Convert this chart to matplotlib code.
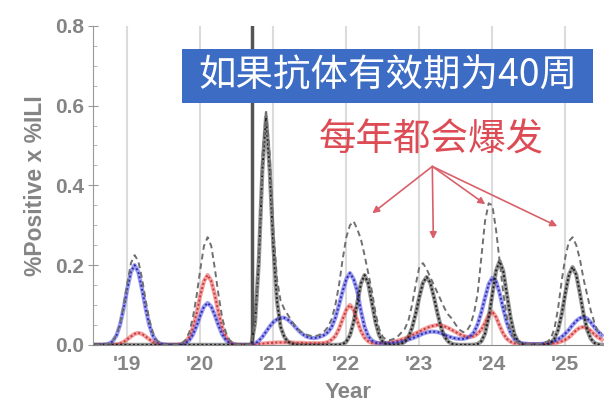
import numpy as np
import matplotlib
matplotlib.use("Agg")
import matplotlib.pyplot as plt
from matplotlib.patches import Rectangle

# time axis: one point every 0.05 year
years = np.round(np.arange(2018.55, 2025.5001, 0.05), 2)

# --- series (rows = calendar years) ---
blue = [
    0, 0, 0, 0.001, 0.003, 0.009, 0.023, 0.05, 0.092,
    0.141, 0.183, 0.20, 0.183, 0.141, 0.092, 0.05, 0.023, 0.009, 0.003,
    0.001, 0, 0, 0, 0, 0.0015, 0.005, 0.012, 0.026, 0.048,
    0.074, 0.096, 0.105, 0.096, 0.074, 0.048, 0.026, 0.012, 0.005, 0.0015,
    0, 0, 0, 0, 0, 0.003, 0.01, 0.02, 0.033, 0.046,
    0.057, 0.064, 0.068, 0.068, 0.063, 0.055, 0.045, 0.035, 0.027, 0.021,
    0.018, 0.017, 0.018, 0.021, 0.025, 0.032, 0.045, 0.068, 0.1, 0.135,
    0.165, 0.18, 0.165, 0.135, 0.085, 0.045, 0.022, 0.011, 0.006, 0.004,
    0.004, 0.004, 0.004, 0.005, 0.006, 0.008, 0.01, 0.013, 0.016, 0.02,
    0.024, 0.028, 0.031, 0.033, 0.033, 0.032, 0.029, 0.025, 0.021, 0.018,
    0.016, 0.015, 0.015, 0.017, 0.022, 0.032, 0.052, 0.082, 0.118, 0.152,
    0.168, 0.16, 0.13, 0.09, 0.055, 0.03, 0.015, 0.008, 0.004, 0.003,
    0.002, 0.002, 0.002, 0.002, 0.003, 0.004, 0.006, 0.009, 0.014, 0.02,
    0.028, 0.038, 0.05, 0.06, 0.067, 0.07, 0.066, 0.056, 0.044, 0.033, 0.024,
]
red = [
    0, 0, 0, 0, 0, 0.0005, 0.001, 0.003, 0.0075,
    0.014, 0.021, 0.0275, 0.03, 0.0275, 0.021, 0.014, 0.0075, 0.0034, 0.0013,
    0.0004, 0, 0, 0, 0.0007, 0.0025, 0.008, 0.02, 0.044, 0.08,
    0.124, 0.16, 0.175, 0.16, 0.124, 0.08, 0.044, 0.02, 0.008, 0.0025,
    0.0007, 0, 0, 0, 0, 0.001, 0.002, 0.003, 0.004, 0.005,
    0.005, 0.006, 0.006, 0.006, 0.006, 0.006, 0.005, 0.005, 0.005, 0.004,
    0.004, 0.004, 0.004, 0.004, 0.005, 0.007, 0.013, 0.022, 0.04, 0.065,
    0.088, 0.10, 0.088, 0.06, 0.035, 0.018, 0.009, 0.005, 0.004, 0.004,
    0.004, 0.005, 0.006, 0.008, 0.01, 0.013, 0.016, 0.02, 0.024, 0.029,
    0.033, 0.038, 0.042, 0.046, 0.048, 0.05, 0.049, 0.046, 0.042, 0.037,
    0.032, 0.027, 0.023, 0.02, 0.02, 0.022, 0.028, 0.038, 0.055, 0.075,
    0.083, 0.07, 0.048, 0.028, 0.015, 0.008, 0.004, 0.003, 0.002, 0.002,
    0.002, 0.002, 0.002, 0.002, 0.002, 0.002, 0.003, 0.004, 0.006, 0.009,
    0.013, 0.019, 0.028, 0.037, 0.043, 0.045, 0.042, 0.035, 0.026, 0.019, 0.013,
]
black = [
    0, 0, 0, 0, 0, 0, 0, 0, 0,
    0, 0, 0, 0, 0, 0, 0, 0, 0, 0,
    0, 0, 0, 0, 0, 0, 0, 0, 0, 0,
    0, 0, 0, 0, 0, 0, 0, 0, 0, 0,
    0, 0, 0, 0, 0, 0.057, 0.205, 0.44, 0.57, 0.44,
    0.25, 0.11, 0.045, 0.02, 0.008, 0.003, 0.001, 0, 0, 0,
    0, 0, 0, 0, 0, 0, 0, 0, 0.0004, 0.002,
    0.0077, 0.024, 0.057, 0.106, 0.154, 0.175, 0.154, 0.106, 0.057, 0.024,
    0.0077, 0.002, 0.0004, 0, 0.0007, 0.0024, 0.0075, 0.019, 0.0425, 0.078,
    0.12, 0.156, 0.17, 0.156, 0.12, 0.078, 0.0425, 0.019, 0.0075, 0.0024,
    0.0007, 0, 0, 0, 0.0001, 0.0005, 0.0023, 0.009, 0.028, 0.068,
    0.127, 0.185, 0.21, 0.185, 0.127, 0.068, 0.028, 0.009, 0.0023, 0.0005,
    0.0001, 0, 0, 0, 0.0002, 0.0012, 0.0047, 0.015, 0.037, 0.077,
    0.129, 0.176, 0.195, 0.176, 0.129, 0.077, 0.037, 0.015, 0.0047, 0.0012, 0.0002,
]
total = [
    0, 0, 0, 0.001, 0.004, 0.01, 0.025, 0.053, 0.1,
    0.155, 0.205, 0.225, 0.21, 0.168, 0.113, 0.064, 0.031, 0.012, 0.004,
    0.001, 0, 0, 0, 0.001, 0.004, 0.013, 0.032, 0.07, 0.124,
    0.19, 0.248, 0.27, 0.248, 0.19, 0.124, 0.068, 0.031, 0.012, 0.004,
    0.001, 0, 0, 0, 0.002, 0.065, 0.225, 0.47, 0.59, 0.48,
    0.29, 0.165, 0.11, 0.09, 0.075, 0.06, 0.047, 0.037, 0.03, 0.026,
    0.023, 0.022, 0.023, 0.027, 0.034, 0.045, 0.065, 0.1, 0.15, 0.215,
    0.27, 0.3, 0.31, 0.29, 0.265, 0.225, 0.18, 0.135, 0.08, 0.04,
    0.02, 0.012, 0.012, 0.015, 0.02, 0.03, 0.04, 0.06, 0.1, 0.15,
    0.195, 0.205, 0.19, 0.17, 0.15, 0.13, 0.11, 0.09, 0.075, 0.065,
    0.05, 0.038, 0.032, 0.035, 0.05, 0.08, 0.13, 0.22, 0.31, 0.355,
    0.35, 0.29, 0.21, 0.13, 0.07, 0.035, 0.015, 0.006, 0.003, 0.002,
    0.002, 0.002, 0.002, 0.003, 0.005, 0.008, 0.015, 0.04, 0.09, 0.16,
    0.22, 0.26, 0.27, 0.25, 0.215, 0.165, 0.125, 0.085, 0.055, 0.03, 0.03,
]

tick_years = [2019, 2020, 2021, 2022, 2023, 2024, 2025]
tick_labels = ["'19", "'20", "'21", "'22", "'23", "'24", "'25"]
cutoff_year = 2020.71

latin = ['Liberation Sans', 'DejaVu Sans']
cjk = ['Noto Sans CJK SC', 'DejaVu Sans']
grey_txt = '#858585'

fig = plt.figure(figsize=(6.04, 4.17), dpi=100)
ax = fig.add_axes([0.154, 0.173, 0.846, 0.765])

for y in tick_years:
    ax.axvline(y, color='#dcdcdc', lw=1.5, zorder=0)
ax.axvline(cutoff_year, color='#555555', lw=2.5, zorder=1)

# model lines with dotted data overlay
for vals, c_line, c_dot in [(red, '#ee6060', '#c83a3a'),
                            (blue, '#5a5ae6', '#2c2cb0'),
                            (black, '#505050', '#1e1e1e')]:
    ax.plot(years, vals, color=c_line, lw=3, alpha=0.6, zorder=2)
    ax.plot(years, vals, color=c_dot, lw=1.4, ls=(0, (1, 1.2)), zorder=3)

ax.plot(years, total, color='#707070', lw=1.4, ls=(0, (3, 2)), zorder=4)

ax.set_xlim(2018.53, 2025.53)
ax.set_ylim(0, 0.8)
ax.set_xticks(tick_years)
ax.set_xticklabels(tick_labels, family=latin, fontsize=15, color=grey_txt,
                   fontweight='bold')
ax.set_yticks([0, 0.2, 0.4, 0.6, 0.8])
ax.set_yticklabels(['0.0', '0.2', '0.4', '0.6', '0.8'], family=latin,
                   fontsize=15, color=grey_txt, fontweight='bold')
ax.set_yticks(np.arange(0, 0.81, 0.05), minor=True)
ax.tick_params(axis='x', length=0, pad=7)
ax.tick_params(axis='y', which='major', direction='inout', length=7,
               color='#999999', pad=3)
ax.tick_params(axis='y', which='minor', direction='in', length=3,
               color='#aaaaaa')

for side in ['top', 'right']:
    ax.spines[side].set_visible(False)
ax.spines['left'].set_color('#999999')
ax.spines['bottom'].set_color('#888888')

ax.set_xlabel('Year', family=latin, fontsize=16, color=grey_txt,
              fontweight='bold', labelpad=6)
ax.set_ylabel('%Positive x %ILI', family=latin, fontsize=16.5,
              color=grey_txt, fontweight='bold', labelpad=6)

# blue banner
ax.add_patch(Rectangle((2019.753, 0.6075), 5.63, 0.135,
                       facecolor='#3d6cc4', edgecolor='none', zorder=5))
ax.text(2022.568, 0.673, '如果抗体有效期为40周', family=cjk, fontsize=27,
        color='white', ha='center', va='center', zorder=6)

# red note with arrows
ax.text(2023.164, 0.5125, '每年都会爆发', family=cjk, fontsize=27,
        color='#dd4b55', ha='center', va='center', zorder=6)
for tx, ty in [(2022.356, 0.33), (2023.192, 0.265),
               (2023.904, 0.3525), (2024.89, 0.2975)]:
    ax.annotate('', xy=(tx, ty), xytext=(2023.178, 0.4475),
                arrowprops=dict(arrowstyle='-|>', color='#d9606a', lw=1.2,
                                mutation_scale=10, shrinkA=0, shrinkB=0),
                zorder=6)

plt.savefig('out.png', dpi=100)
